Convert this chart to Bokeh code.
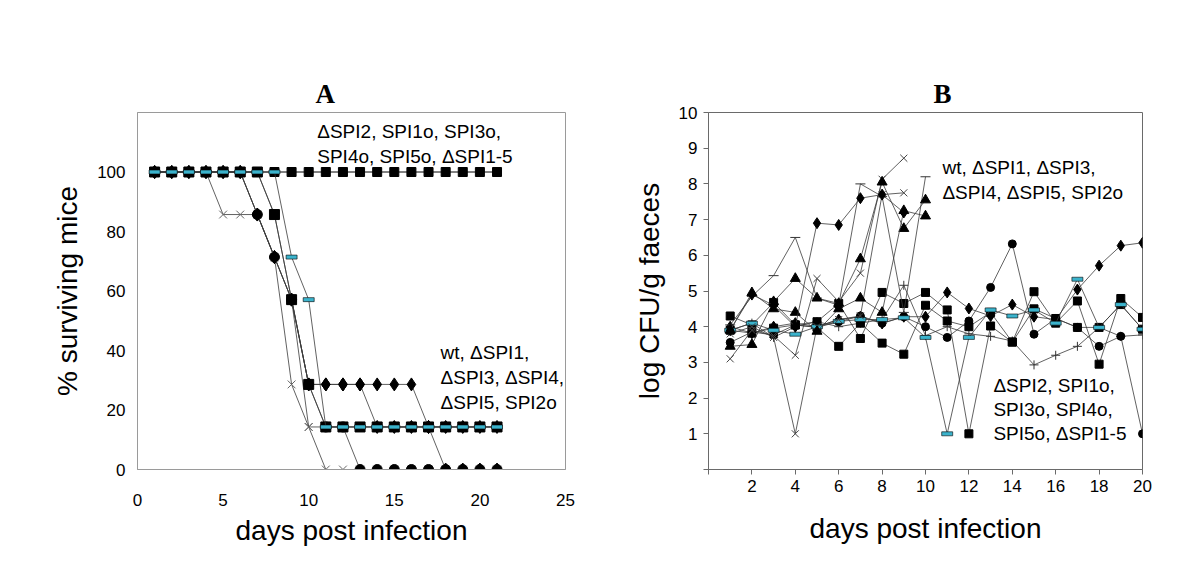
from bokeh.plotting import figure
from bokeh.layouts import row
from bokeh.models import Range1d, FixedTicker, Label
from bokeh.embed import file_html
from bokeh.resources import INLINE

FONT = "Liberation Sans"

# ---------------- Panel A : survival ----------------
days_a = [1, 2, 3, 4, 5, 6, 7, 8, 9, 10, 11, 12, 13, 14, 15, 16, 17, 18, 19, 20, 21]
# attenuated strains (all survive)
a_top_sq = [100, 100, 100, 100, 100, 100, 100, 100, 100, 100, 100, 100, 100, 100, 100, 100, 100, 100, 100, 100, 100]
a_top_x = [100, 100, 100, 100, 100, 100, 100, 100, 100, 100, 100, 100, 100, 100, 100, 100, 100, 100, 100, 100, 100]
# virulent strains
a_x = [100, 100, 100, 100, 85.7, 85.7, 85.7, 71.4, 28.6, 14.3, 0, 0, 0, 0, 0, 0, 0, 0, 0, 0, 0]
a_diamond = [100, 100, 100, 100, 100, 100, 85.7, 71.4, 57.1, 28.6, 28.6, 28.6, 28.6, 28.6, 28.6, 28.6, 14.3, 0, 0, 0, 0]
a_diamond2 = [100, 100, 100, 100, 100, 100, 85.7, 71.4, 57.1, 28.6, 28.6, 28.6, 28.6, 14.3, 14.3, 14.3, 14.3, 14.3, 14.3, 14.3, 14.3]
a_circle = [100, 100, 100, 100, 100, 100, 85.7, 71.4, 57.1, 28.6, 14.3, 14.3, 0, 0, 0, 0, 0, 0, 0, 0, 0]
a_square = [100, 100, 100, 100, 100, 100, 100, 85.7, 57.1, 28.6, 14.3, 14.3, 14.3, 14.3, 14.3, 14.3, 14.3, 14.3, 14.3, 14.3, 14.3]
a_x2 = [100, 100, 100, 100, 100, 100, 100, 85.7, 57.1, 14.3, 14.3, 14.3, 14.3, 14.3, 14.3, 14.3, 14.3, 14.3, 14.3, 14.3, 14.3]
a_dash = [100, 100, 100, 100, 100, 100, 100, 100, 71.4, 57.1, 14.3, 14.3, 14.3, 14.3, 14.3, 14.3, 14.3, 14.3, 14.3, 14.3, 14.3]
a_xticks = [0, 5, 10, 15, 20, 25]
a_yticks = [0, 20, 40, 60, 80, 100]

# ---------------- Panel B : faecal shedding ----------------
days_b = [1, 2, 3, 4, 5, 6, 7, 8, 9, 10, 11, 12, 13, 14, 15, 16, 17, 18, 19, 20]
b_wt = [3.9, 4.9, 4.6, 4.0, 6.9, 6.85, 7.6, 7.7, 7.2]
b_dspi1 = [3.45, 3.5, 4.7, 5.35, 4.8, 4.65, 5.9, 8.05, 6.75, 7.55]
b_dspi3 = [3.9, 4.95, 4.5, 4.4, 3.87, 4.5, 4.8, 4.4, 7.25, 7.1]
b_dspi4 = [3.1, 3.9, 3.75, 3.2, 5.35, 4.7, 5.5, 8.13, 8.72]
b_dspi5 = [3.8, 4.0, 3.7, 1.0, 4.0, 4.2, 4.3, 7.7, 7.75]
b_spi2o = [4.05, 4.85, 5.43, 6.5, 4.8, 4.6, 8.0, 7.65, 4.4, 8.2]
b_dspi2 = [4.3, 4.05, 4.68, 4.05, 4.14, 4.65, 3.67, 4.96, 4.65, 4.96, 4.47, 1.0, 4.02, 3.57, 4.98, 4.1, 4.72, 2.95, 4.79, 4.26]
b_spi1o = [3.9, 4.1, 3.9, 3.79, 4.0, 4.15, 4.2, 4.2, 4.25, 3.7, 1.0, 3.7, 4.47, 4.3, 4.47, 4.1, 5.33, 3.98, 4.62, 3.93]
b_spi3o = [3.56, 3.85, 3.77, 4.05, 3.98, 4.14, 4.3, 4.1, 4.28, 4.0, 3.7, 4.16, 5.1, 6.32, 3.79, 4.23, 3.98, 3.45, 3.73, 1.0]
b_spi4o = [4.0, 3.82, 4.0, 4.1, 4.0, 4.2, 4.28, 4.09, 4.28, 4.28, 4.96, 4.51, 4.3, 4.62, 4.28, 4.2, 5.04, 5.71, 6.27, 6.35]
b_spi5o = [3.9, 4.1, 3.7, 4.0, 4.14, 4.0, 4.1, 4.2, 5.16, 3.75, 4.0, 3.8, 3.73, 3.6, 2.93, 3.2, 3.45, 3.98, 3.73, 3.77]
b_dspi15 = [3.9, 3.82, 3.96, 4.05, 3.98, 3.45, 4.1, 3.54, 3.23, 4.6, 4.16, 4.0, 4.4, 3.57, 4.5, 4.23, 3.98, 3.98, 4.62, 3.93]
b_xticks = [0, 2, 4, 6, 8, 10, 12, 14, 16, 18, 20]
b_yticks = [0, 1, 2, 3, 4, 5, 6, 7, 8, 9, 10]

LINE = "#3a3a3a"
CYAN = "#3bb3cc"


def style(p, frame_col, ticks_out, tick_fs="17px"):
    p.grid.visible = False
    p.outline_line_color = frame_col
    p.outline_line_width = 1
    p.background_fill_color = "white"
    p.border_fill_color = "white"
    for ax in (p.xaxis[0], p.yaxis[0]):
        ax.axis_line_color = frame_col
        ax.major_tick_out = ticks_out
        ax.major_tick_in = 0
        ax.major_tick_line_color = frame_col if ticks_out else None
        ax.minor_tick_line_color = None
        ax.major_label_text_font = FONT
        ax.major_label_text_font_size = tick_fs
        ax.major_label_text_color = "black"
        ax.axis_label_text_font = FONT
        ax.axis_label_text_font_size = "28px"
        ax.axis_label_text_font_style = "normal"
        ax.axis_label_text_color = "black"


def set_title(p, text, offset):
    p.title.text = text
    p.title.align = "left"
    p.title.offset = offset
    p.title.text_font = "Liberation Serif"
    p.title.text_font_size = "27px"
    p.title.text_font_style = "bold"
    p.title.text_color = "black"
    p.title.standoff = 8


def series(p, xs, ys, marker, size, color="black", line_color=None):
    n = len(ys)
    p.line(xs[:n], ys, line_color=LINE, line_width=0.8)
    if marker == "dashbar":
        p.rect(xs[:n], ys, width=11, height=4, width_units="screen", height_units="screen",
               fill_color=CYAN, line_color="black", line_width=0.6)
    elif marker in ("x", "cross", "dash"):
        p.scatter(xs[:n], ys, marker=marker, size=size, line_color=line_color or color, line_width=1)
    else:
        p.scatter(xs[:n], ys, marker=marker, size=size, fill_color=color, line_color=line_color or color)


def txt(p, x, y, s, size="19px"):
    p.add_layout(Label(x=x, y=y, text=s, text_font=FONT, text_font_size=size,
                       text_align="left", text_baseline="middle", text_color="black"))


# ---------- figure A ----------
pA = figure(width=620, height=548, x_range=Range1d(0, 25), y_range=Range1d(0, 120),
            output_backend="svg", toolbar_location=None,
            min_border_left=137, min_border_right=55, min_border_top=111, min_border_bottom=76)
style(pA, "#9a9a9a", 0)
set_title(pA, "A", 178)
pA.xaxis.ticker = FixedTicker(ticks=a_xticks)
pA.yaxis.ticker = FixedTicker(ticks=a_yticks)
pA.xaxis.major_label_standoff = 24
pA.yaxis.major_label_standoff = 12
pA.xaxis.axis_label = "days post infection"
pA.yaxis.axis_label = "% surviving mice"
pA.xaxis.axis_label_standoff = 6
pA.yaxis.axis_label_standoff = 11

series(pA, days_a, a_top_x, "x", 10, color="#666666")
series(pA, days_a, a_top_sq, "square", 9)
series(pA, days_a, a_x, "x", 11, color="#666666")
series(pA, days_a, a_x2, "x", 11, color="#666666")
series(pA, days_a, a_circle, "circle", 10)
series(pA, days_a, a_diamond, "diamond", 13)
series(pA, days_a, a_diamond2, "diamond", 13)
series(pA, days_a, a_square, "square", 10, color="black")
series(pA, days_a, a_dash, "dashbar", 0)

txt(pA, 10.5, 113.6, "ΔSPI2, SPI1o, SPI3o,")
txt(pA, 10.5, 105.3, "SPI4o, SPI5o, ΔSPI1-5")
txt(pA, 17.7, 39.2, "wt, ΔSPI1,")
txt(pA, 17.7, 30.9, "ΔSPI3, ΔSPI4,")
txt(pA, 17.7, 22.6, "ΔSPI5, SPI2o")

# ---------- figure B ----------
pB = figure(width=580, height=548, x_range=Range1d(0, 20), y_range=Range1d(0, 10),
            output_backend="svg", toolbar_location=None,
            min_border_left=88, min_border_right=58, min_border_top=112, min_border_bottom=76)
style(pB, "#6a6a6a", 5)
set_title(pB, "B", 225)
pB.xaxis.ticker = FixedTicker(ticks=b_xticks)
pB.yaxis.ticker = FixedTicker(ticks=b_yticks)
pB.xaxis.major_label_overrides = {0: ""}
pB.yaxis.major_label_overrides = {0: ""}
pB.xaxis.major_label_standoff = 5
pB.yaxis.major_label_standoff = 6
pB.xaxis.axis_label = "days post infection"
pB.yaxis.axis_label = "log CFU/g faeces"
pB.xaxis.axis_label_standoff = 18
pB.yaxis.axis_label_standoff = 11

series(pB, days_b, b_spi5o, "cross", 9, color="#333333")
series(pB, days_b, b_spi3o, "circle", 8)
series(pB, days_b, b_spi4o, "diamond", 11)
series(pB, days_b, b_dspi2, "square", 8)
series(pB, days_b, b_dspi15, "square", 8)
series(pB, days_b, b_spi1o, "dashbar", 0)
series(pB, days_b, b_dspi4, "x", 10, color="#444444")
series(pB, days_b, b_dspi5, "x", 10, color="#444444")
series(pB, days_b, b_spi2o, "dash", 10, color="#333333")
series(pB, days_b, b_dspi1, "triangle", 10)
series(pB, days_b, b_dspi3, "triangle", 10)
series(pB, days_b, b_wt, "diamond", 11)

txt(pB, 10.78, 8.47, "wt, ΔSPI1, ΔSPI3,")
txt(pB, 10.78, 7.77, "ΔSPI4, ΔSPI5, SPI2o")
txt(pB, 13.13, 2.34, "ΔSPI2, SPI1o,")
txt(pB, 13.13, 1.67, "SPI3o, SPI4o,")
txt(pB, 13.13, 1.0, "SPI5o, ΔSPI1-5")

layout = row(pA, pB)
open("out.html", "w").write(file_html(layout, INLINE))
